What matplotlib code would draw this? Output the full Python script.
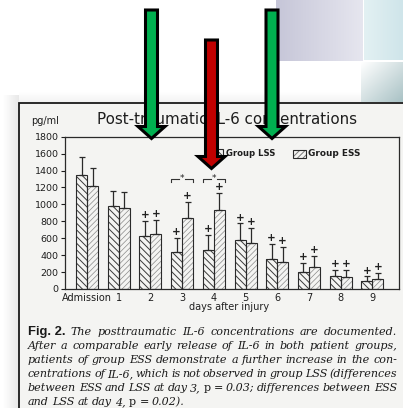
import numpy as np
import matplotlib
matplotlib.use("Agg")
import matplotlib.pyplot as plt
from matplotlib.patches import Rectangle, Polygon

W, H, DPI = 403, 408, 100

# ---- data -------------------------------------------------------------
categories = ["Admission", "1", "2", "3", "4", "5", "6", "7", "8", "9"]
lss_mean = [1350, 980, 625, 440, 460, 585, 350, 200, 158, 95]
lss_sd = [215, 180, 180, 160, 175, 190, 180, 105, 67, 53]
ess_mean = [1215, 955, 650, 835, 935, 540, 325, 255, 142, 118]
ess_sd = [220, 190, 165, 190, 205, 178, 175, 135, 83, 75]
lss_plus = [0, 0, 1, 1, 1, 1, 1, 1, 1, 1]
ess_plus = [0, 0, 1, 1, 1, 1, 1, 1, 1, 1]
sig_days = [3, 4]
y_ticks = [0, 200, 400, 600, 800, 1000, 1200, 1400, 1600, 1800]

caption = [
    [("Fig. 2.", "b"), ("The", "i"), ("posttraumatic", "i"), ("IL-6", "i"),
     ("concentrations", "i"), ("are", "i"), ("documented.", "i")],
    [(w, "i") for w in "After a comparable early release of IL-6 in both patient groups,".split()],
    [(w, "i") for w in "patients of group ESS demonstrate a further increase in the con-".split()],
    [(w, "i") for w in "centrations of IL-6, which is not observed in group LSS (differences".split()],
    [(w, "i") for w in "between ESS and LSS at day 3,".split()] + [("p", "r"), ("=", "r")] +
    [(w, "i") for w in "0.03; differences between ESS".split()],
    [(w, "i") for w in "and LSS at day 4,".split()] + [("p", "r"), ("=", "r"), ("0.02).", "i")],
]

# ---- figure -------------------------------------------------------------
plt.rcParams["hatch.linewidth"] = 0.7
fig = plt.figure(figsize=(W / DPI, H / DPI), dpi=DPI, facecolor="white")
renderer = fig.canvas.get_renderer()


def px_axes(z):
    a = fig.add_axes([0, 0, 1, 1], zorder=z)
    a.set_xlim(0, W)
    a.set_ylim(H, 0)
    a.axis("off")
    return a


bg = px_axes(0)


def gradient(ax_, extent, c0, c1, direction="diag", z=0):
    x0, x1, y0, y1 = extent
    n = 64
    gx, gy = np.meshgrid(np.linspace(0, 1, n), np.linspace(0, 1, n))
    if direction == "diag":
        t = (gx + gy) / 2
    elif direction == "x":
        t = gx
    else:
        t = gy
    c0 = np.array(matplotlib.colors.to_rgba(c0))
    c1 = np.array(matplotlib.colors.to_rgba(c1))
    img = c0[None, None, :] * (1 - t[..., None]) + c1[None, None, :] * t[..., None]
    ax_.imshow(img, extent=(x0, x1, y1, y0), aspect="auto", zorder=z,
               interpolation="bilinear")


# decorative tiles at the top right
gradient(bg, (276, 363, 0, 61), "#c6c6d8", "#e6e6ef", "x")
gradient(bg, (364, 403, 0, 60), "#e3f1f3", "#cfe5ea", "x")
gradient(bg, (361, 403, 62, 102), "#ffffff", "#a9c2c5", "diag")
# soft shadow around the frame
gradient(bg, (3, 19, 95, 408), (0.5, 0.5, 0.5, 0.0), (0.5, 0.5, 0.5, 0.18), "x", z=1)
gradient(bg, (19, 361, 92, 103), (0.5, 0.5, 0.5, 0.0), (0.5, 0.5, 0.5, 0.10), "y", z=1)
bg.add_patch(Rectangle((19, 103), 400, 320, facecolor="#f4f4f2",
                       edgecolor="#1a1a1a", lw=1.3, zorder=2))
bg.set_xlim(0, W)
bg.set_ylim(H, 0)

# ---- chart ---------------------------------------------------------------
px0, px1, py_top, py_bot = 65, 399, 136.7, 289
step = 31.7
ax = fig.add_axes([px0 / W, 1 - py_bot / H, (px1 - px0) / W, (py_bot - py_top) / H],
                  zorder=1)
ax.patch.set_alpha(0)
x = np.arange(len(categories))
ax.set_xlim(-(87 - px0) / step, (px1 - 87) / step)
ax.set_ylim(0, 1800)
bw = 11 / step

lss_bars = ax.bar(x - bw / 2, lss_mean, bw, facecolor="none", edgecolor="#3a3a3a",
                  hatch="\\\\\\\\\\", linewidth=0, zorder=2)
ess_bars = ax.bar(x + bw / 2, ess_mean, bw, facecolor="none", edgecolor="#8a8a8a",
                  hatch="//////", linewidth=0, zorder=2)
for b in ess_bars:
    if hasattr(b, "set_hatch_linewidth"):
        b.set_hatch_linewidth(0.5)
ax.bar(x - bw / 2, lss_mean, bw, facecolor="none", edgecolor="#2a2a2a", linewidth=0.8, zorder=3)
ax.bar(x + bw / 2, ess_mean, bw, facecolor="none", edgecolor="#2a2a2a", linewidth=0.8, zorder=3)

for off, mean, sd in ((-bw / 2, lss_mean, lss_sd), (bw / 2, ess_mean, ess_sd)):
    ax.errorbar(x + off, mean, yerr=[np.zeros(len(sd)), sd], fmt="none",
                ecolor="#2a2a2a", elinewidth=0.9, capsize=2.2, capthick=0.9, zorder=4)

for off, mean, sd, plus in ((-bw / 2, lss_mean, lss_sd, lss_plus),
                            (bw / 2, ess_mean, ess_sd, ess_plus)):
    for xi, m, s, p in zip(x, mean, sd, plus):
        if p:
            ax.annotate("+", (xi + off, m + s), xytext=(0, 4.2), textcoords="offset points",
                        ha="center", va="center", fontsize=7.5, color="#222222",
                        fontweight="bold", zorder=5)

for d in sig_days:
    yb, drop, gap = 1305, 45, 0.09
    ax.plot([d - bw, d - bw, d - gap], [yb - drop, yb, yb], color="#333333", lw=0.8)
    ax.plot([d + gap, d + bw, d + bw], [yb, yb, yb - drop], color="#333333", lw=0.8)
    ax.text(d, yb + 5, "*", ha="center", va="center", fontsize=6.5, color="#222222")

for side in ax.spines.values():
    side.set_color("#2a2a2a")
    side.set_linewidth(0.9)
ax.set_yticks(y_ticks)
ax.tick_params(axis="y", length=3, width=0.8, pad=1.5, labelsize=6.8,
               colors="#1e1e1e", direction="out")
ax.set_xticks(x)
ax.set_xticklabels(categories)
ax.tick_params(axis="x", length=0, pad=3.2, labelsize=7, colors="#1e1e1e")

# ---- text in pixel coordinates -------------------------------------------
top = px_axes(3)


def fit_text(ax_, x0, x1, y, s, base=8, **kw):
    t = ax_.text(x0, y, s, fontsize=base, ha="left", va="center", **kw)
    w = t.get_window_extent(renderer).width
    t.set_fontsize(base * (x1 - x0) / w)
    return t


fit_text(top, 97, 359, 120, "Post-traumatic IL-6 concentrations", color="#1e1e1e",
         fontweight="medium")
fit_text(top, 31, 59, 120.5, "pg/ml", color="#1e1e1e")
top.text(229, 307, "days after injury", ha="center", va="center", fontsize=7,
         color="#222222")

# legend
top.add_patch(Rectangle((210, 149), 13, 9, facecolor="none", edgecolor="#3a3a3a",
                        hatch="\\\\\\\\\\", lw=0))
top.add_patch(Rectangle((210, 149), 13, 9, facecolor="none", edgecolor="#2a2a2a", lw=0.8))
top.add_patch(Rectangle((293, 150), 13, 8, facecolor="none", edgecolor="#7a7a7a",
                        hatch="//////", lw=0))
top.add_patch(Rectangle((293, 150), 13, 8, facecolor="none", edgecolor="#2a2a2a", lw=0.8))
fit_text(top, 226, 275, 154, "Group LSS", color="#1e1e1e", fontweight="semibold")
fit_text(top, 308, 360, 154, "Group ESS", color="#1e1e1e", fontweight="semibold")

# caption, justified
styles = {
    "b": dict(family="Liberation Sans", fontweight="bold"),
    "i": dict(family="DejaVu Serif", fontstyle="italic"),
    "r": dict(family="DejaVu Serif"),
}
cx0, cx1 = 28, 397
base = 9.0


def word_width(s, st, size):
    t = top.text(0, 0, s, fontsize=size, **styles[st])
    w = t.get_window_extent(renderer).width
    t.remove()
    return w


space = (word_width("a a", "i", base) - word_width("aa", "i", base)) * 0.6
natural = []
for line in caption[1:-1]:
    natural.append(sum(word_width(w, st, base) for w, st in line) + space * (len(line) - 1))
size = base * (cx1 - cx0) / max(natural)
space = space * size / base
label_size = 9.4

for li, line in enumerate(caption):
    yb = 335 + 14 * li
    widths = [word_width(w, st, label_size if st == "b" else size) for w, st in line]
    if li < len(caption) - 1:
        g = (cx1 - cx0 - sum(widths)) / (len(line) - 1)
    else:
        g = space * 1.5
    xc = cx0
    for (w, st), ww in zip(line, widths):
        top.text(xc, yb, w, fontsize=label_size if st == "b" else size, ha="left",
                 va="baseline", color="#1a1a1a", **styles[st])
        xc += ww + g

# ---- arrows --------------------------------------------------------------


def arrow(xc, y0, y_head, y_tip, color, shaft=12, head=27):
    pts = [(xc - shaft / 2, y0), (xc + shaft / 2, y0), (xc + shaft / 2, y_head),
           (xc + head / 2, y_head), (xc, y_tip), (xc - head / 2, y_head),
           (xc - shaft / 2, y_head)]
    top.add_patch(Polygon(pts, closed=True, facecolor=color, edgecolor="black",
                          lw=2.2, joinstyle="miter", zorder=10))


arrow(151.5, 10, 126.5, 138.5, "#00b050")
arrow(211.5, 40, 156.5, 168.5, "#c00000")
arrow(272, 10, 126.5, 138.5, "#00b050")

fig.savefig("out.png", dpi=DPI, facecolor="white")
